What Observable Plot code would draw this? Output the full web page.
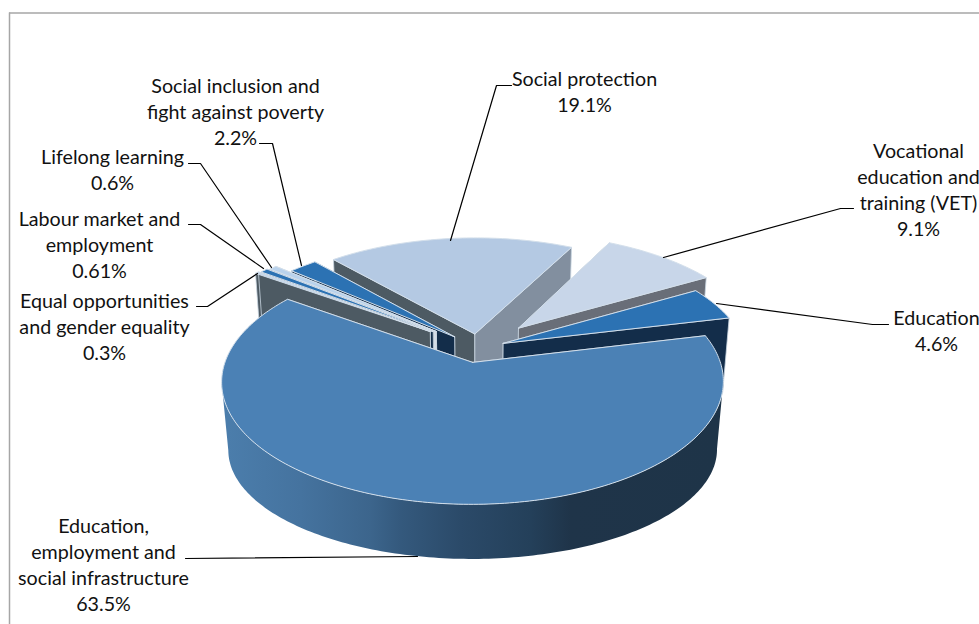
<!DOCTYPE html>
<html><head><meta charset="utf-8">
<style>html,body{margin:0;padding:0;background:#fff;overflow:hidden}svg{display:block}</style>
<script src="https://cdn.jsdelivr.net/npm/d3@7"></script>
<script src="https://cdn.jsdelivr.net/npm/@observablehq/plot@0.6"></script>
</head><body><div id="chart"></div>
<script>
// --- data (clockwise order, starting with the largest slice)
const categories = ["Education, employment and social infrastructure","Equal opportunities and gender equality","Labour market and employment","Lifelong learning","Social inclusion and fight against poverty","Social protection","Vocational education and training (VET)","Education"];
const values = [63.5,0.3,0.61,0.6,2.2,19.1,9.1,4.6];
const valueLabels = ["63.5%","0.3%","0.61%","0.6%","2.2%","19.1%","9.1%","4.6%"];
// --- styles
const topColors  = ["#4b81b5","#c6d8eb","#2c72b3","#b9d2ec","#2c72b3","#b4c9e3","#c8d6e9","#2c72b3"];
const wallStart  = ["#132d4a","#4d5a63","#132d4a","#d5dde6","#132d4a","#4d5a63","#696e78","#132d4a"];
const wallEnd    = ["#132d4a","#4d5a63","#132d4a","#d5dde6","#132d4a","#828f9f","#696e78","#132d4a"];
const explode    = [0.125,0.25,0.24,0.23,0.14,0.125,0.245,0.11];
const drawOrder  = [5,6,7,4,3,2,1,0];
// --- 3D view
const view = {cx:478, cy:347.5, sx:243, sy:115, persp:0.155, depthC:71.8, slopeY:0.89, shrink:0.974, start:76.6};
const rimStops = [[228,"#4b7dab"],[300,"#45739f"],[370,"#3c658c"],[400,"#34597d"],[460,"#2b4a69"],[530,"#24405a"],[570,"#1f3449"],[720,"#1e3448"]];
function project(u,v,low){
  const w=1+view.persp*v;
  let x=view.cx+view.sx*u/w, y=view.cy-view.sy*v/w;
  if(low){x=view.cx+(x-view.cx)*view.shrink; y=view.cy+view.depthC+(y-view.cy)*view.slopeY;}
  return {x,y};
}
const total=d3.sum(values);
let acc=view.start;
const slices=values.map((val,i)=>{const a0=acc,a1=acc+val/total*360;acc=a1;return {i,a0,a1,mid:(a0+a1)/2};});
const rad=d=>d*Math.PI/180;
const rows=[];let nextId=0;
function poly(pts,fill,stroke,sw){const id=nextId++;[...pts,pts[0]].forEach(p=>rows.push({id,x:p.x,y:p.y,fill,stroke,sw}));}
for(const k of drawOrder){
  const s=slices[k],e=explode[k];
  const ou=e*Math.sin(rad(s.mid)),ov=e*Math.cos(rad(s.mid));
  const pt=(a,low)=>project(ou+Math.sin(rad(a)),ov+Math.cos(rad(a)),low);
  const ap=low=>project(ou,ov,low);
  const step=Math.min(1,(s.a1-s.a0));
  const as=d3.range(s.a0,s.a1,step).concat([s.a1]);
  // rim: only the front-facing run between the widest points of the arc
  if(as.some(a=>Math.cos(rad(a))<-0.5)){
    const i0=d3.greatest(as.map((a,i)=>i),i=>pt(as[i],false).x), i1=d3.least(as.map((a,i)=>i),i=>pt(as[i],false).x);
    const run=as.slice(i0,i1+1);
    poly([...run.map(a=>pt(a,false)),...run.slice().reverse().map(a=>pt(a,true))],"url(#rimGrad)","none",0);
  }
  // cut faces
  const f0=[ap(false),pt(s.a0,false),pt(s.a0,true),ap(true)], f1=[ap(false),pt(s.a1,false),pt(s.a1,true),ap(true)];
  poly(f0,wallStart[k],"#c9d5e1",0.8);
  poly(f1,wallEnd[k],"#c9d5e1",0.8);
  // top
  poly([ap(false),...as.map(a=>pt(a,false))],topColors[k],"#d3dfeb",1);
}
// --- labels and leaders
const labelText=[
 "Education,\nemployment and\nsocial infrastructure\n"+valueLabels[0],
 "Equal opportunities\nand gender equality\n"+valueLabels[1],
 "Labour market and\nemployment\n"+valueLabels[2],
 "Lifelong learning\n"+valueLabels[3],
 "Social inclusion and\nfight against poverty\n"+valueLabels[4],
 "Social protection\n"+valueLabels[5],
 "Vocational\neducation and\ntraining (VET)\n"+valueLabels[6],
 "Education\n"+valueLabels[7]];
const labelX=[103,104,99,112,235,584,918,936];
const labelY=[563,325,243,168,110,90,188,329];
const leaders=[
 [[185,558],[417,556]],
 [[196,306],[207,306],[257,273]],
 [[188,224],[200,224],[263,268]],
 [[188,163],[200,163],[271,267]],
 [[259,143],[272,143],[301,265]],
 [[511,85],[496,85],[450,240]],
 [[853,208],[840,208],[663,257]],
 [[888,324],[872,324],[716,303]]];
const leaderRows=leaders.flatMap((l,id)=>l.map(([x,y])=>({id,x,y})));
const labels=labelText.map((t,i)=>({t,x:labelX[i],y:labelY[i],name:categories[i]}));
const gradientDefs=()=>{
  const defs=d3.create("svg:defs");
  const g=defs.append("linearGradient").attr("id","rimGrad").attr("gradientUnits","userSpaceOnUse")
    .attr("x1",228).attr("x2",720).attr("y1",0).attr("y2",0);
  rimStops.forEach(([x,c])=>g.append("stop").attr("offset",(x-228)/(720-228)).attr("stop-color",c));
  return defs.node();
};
const plot=Plot.plot({
  width:979,height:624,margin:0,
  style:{background:"#fff"},
  x:{domain:[0,979],range:[0,979],axis:null},
  y:{domain:[0,624],range:[0,624],axis:null},
  color:{type:"identity"},
  marks:[
    gradientDefs,
    Plot.ruleX([9],{y1:12.5,y2:624,stroke:"#a6a6a6",strokeWidth:1.5}),
    Plot.ruleY([12.5],{x1:9,x2:979,stroke:"#a6a6a6",strokeWidth:1.5}),
    Plot.line(rows,{x:"x",y:"y",z:"id",fill:"fill",stroke:"stroke",strokeWidth:"sw",strokeLinejoin:"round"}),
    Plot.line(leaderRows,{x:"x",y:"y",z:"id",stroke:"#000",strokeWidth:1.2}),
    Plot.text(labels,{x:"x",y:"y",text:"t",fontFamily:"Lato",fontSize:19.7,lineHeight:1.32,fill:"#111",textAnchor:"middle"})
  ]
});
document.getElementById("chart").append(plot);
</script></body></html>
